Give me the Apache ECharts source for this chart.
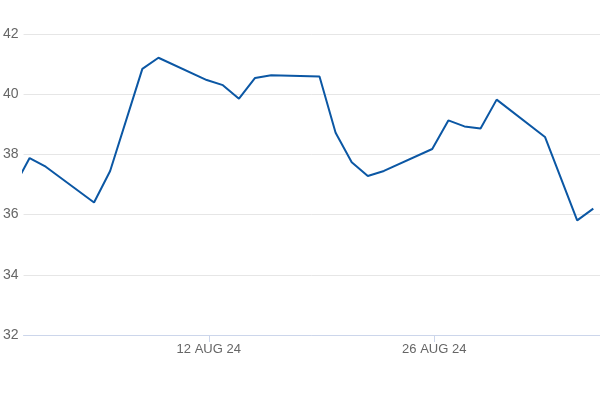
<!DOCTYPE html>
<html>
<head>
<meta charset="utf-8">
<script src="https://cdn.jsdelivr.net/npm/echarts@6/dist/echarts.min.js"></script>
<style>
  html, body { margin: 0; padding: 0; background: #fff; }
  #chart { width: 600px; height: 400px; }
</style>
</head>
<body>
<div id="chart"></div>
<script>
// 交易日（2024年，月份从1开始）
const dates = [
  '2024-07-31', '2024-08-01', '2024-08-02',
  '2024-08-05', '2024-08-06', '2024-08-08', '2024-08-09',
  '2024-08-12', '2024-08-13', '2024-08-14', '2024-08-15', '2024-08-16',
  '2024-08-19', '2024-08-20', '2024-08-21', '2024-08-22', '2024-08-23',
  '2024-08-26', '2024-08-27', '2024-08-28', '2024-08-29', '2024-08-30',
  '2024-09-02', '2024-09-04', '2024-09-05'
]
// 收盘价
const prices = [
  36.88, 37.88, 37.59,
  36.40, 37.45, 40.84, 41.21,
  40.47, 40.30, 39.85, 40.54, 40.63,
  40.59, 38.72, 37.74, 37.28, 37.45,
  38.18, 39.13, 38.93, 38.86, 39.82,
  38.58, 35.81, 36.20
]
// x 轴标签位置
const tickDates = ['2024-08-12', '2024-08-26']
const yTicks = { min: 32, max: 42, step: 2 }

const ts = (s, h = 0) => {
  const [y, m, d] = s.split('-').map(Number)
  return Date.UTC(y, m - 1, d, h)
}
const MONTHS = ['JAN', 'FEB', 'MAR', 'APR', 'MAY', 'JUN', 'JUL', 'AUG', 'SEP', 'OCT', 'NOV', 'DEC']
const tickValues = tickDates.map(d => ts(d, 3))

const chart = echarts.init(document.getElementById('chart'))

const option = {
  animation: false,
  grid: { left: 23, right: 0, top: 34, bottom: 65 },
  xAxis: {
    type: 'value',
    min: ts('2024-07-31', 15),
    max: ts('2024-09-05', 10),
    axisLine: { lineStyle: { color: '#ccd6eb', width: 1 } },
    axisTick: {
      show: true,
      length: 7,
      lineStyle: { color: '#ccd6eb' },
      customValues: tickValues
    },
    axisLabel: {
      customValues: tickValues,
      color: '#666',
      fontSize: 13,
      fontFamily: 'Liberation Sans',
      margin: 8,
      formatter: v => {
        const d = new Date(v)
        return d.getUTCDate() + ' ' + MONTHS[d.getUTCMonth()] + ' ' + String(d.getUTCFullYear()).slice(2)
      }
    },
    splitLine: { show: false }
  },
  yAxis: {
    type: 'value',
    min: yTicks.min,
    max: yTicks.max,
    interval: yTicks.step,
    axisLine: { show: false },
    axisTick: { show: false },
    axisLabel: {
      color: '#666',
      fontSize: 14,
      fontFamily: 'Liberation Sans',
      margin: 5
    },
    splitLine: { lineStyle: { color: '#e6e6e6', width: 1 } }
  },
  series: [
    {
      type: 'line',
      data: dates.map((d, i) => [ts(d), prices[i]]),
      showSymbol: false,
      clip: true,
      lineStyle: { color: '#0b57a4', width: 2 },
      itemStyle: { color: '#0b57a4' }
    }
  ]
}

chart.setOption(option)
</script>
</body>
</html>
